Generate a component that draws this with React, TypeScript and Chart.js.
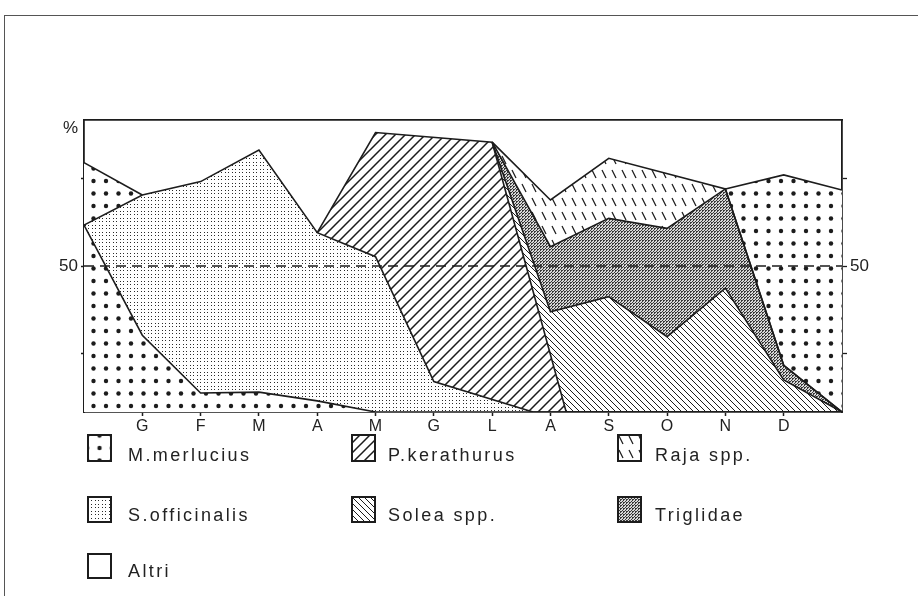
import React, { useEffect, useRef } from 'react';
import { Chart, registerables } from 'chart.js';

Chart.register(...registerables);

// ---- data (x = month slot: 0 and 13 are the frame edges; y = boundary height in %) ----
const MONTH_LABELS = ['', 'G', 'F', 'M', 'A', 'M', 'G', 'L', 'A', 'S', 'O', 'N', 'D', ''];

const M_MERLUCIUS_LOW_X = [0, 1, 2, 3, 4, 5, 13];
const M_MERLUCIUS_LOW_Y = [64, 26.3, 6.5, 6.8, 3.8, 0, 0];

const S_OFFICINALIS_X = [0, 1, 2, 3, 4, 5, 6, 7.7, 13];
const S_OFFICINALIS_Y = [64, 74.3, 78.9, 89.7, 61.4, 53.2, 10.4, 0, 0];

const M_MERLUCIUS_HIGH_X = [0, 1];
const M_MERLUCIUS_HIGH_Y = [85.4, 74.3];

const P_KERATHURUS_X = [4, 5, 7, 8.27, 13];
const P_KERATHURUS_Y = [61.4, 95.7, 92.4, 0, 0];

const SOLEA_X = [7, 8, 9, 10, 11, 12, 13];
const SOLEA_Y = [92.4, 34.3, 39.5, 25.8, 42.4, 11, 0];

const TRIGLIDAE_X = [7, 8, 9, 10, 11, 12, 13];
const TRIGLIDAE_Y = [92.4, 56.6, 66.3, 62.9, 76.4, 16, 0];

const RAJA_X = [7, 8, 9, 11, 12, 13];
const RAJA_Y = [92.4, 72.6, 86.9, 76.4, 16, 0];

const M_MERLUCIUS_RIGHT_X = [11, 12, 13];
const M_MERLUCIUS_RIGHT_Y = [76.4, 81.2, 76.0];

const REF_X = [0, 13];
const REF_Y = [50, 50];

const Y_TICKS = [20, 50, 80];
const Y_LABELLED = 50;
const PERCENT_AT = 97;

const LEGEND_LABELS = ['M.merlucius', 'P.kerathurus', 'Raja spp.', 'S.officinalis', 'Solea spp.', 'Triglidae', 'Altri'];
const LEGEND_PATTERNS = ['bigDots', 'hatch', 'raja', 'fineDots', 'solea', 'trig', null];

// ---- layout / styles ----
const INK = '#1c1c1c';
const FONT = "'Liberation Sans', Arial, sans-serif";
const LEG_COL_BOX = [87, 351, 617];
const LEG_COL_TEXT = [128, 388, 655];
const LEG_ROW_BOX_TOP = [434, 496, 553];
const LEG_ROW_BOX_H = [28, 27, 26];
const LEG_ROW_TEXT_TOP = [445, 505, 561];

function makeTile(w: number, h: number, draw: (g: CanvasRenderingContext2D) => void, bg = '#fff') {
  const c = document.createElement('canvas');
  c.width = w;
  c.height = h;
  const g = c.getContext('2d')!;
  g.fillStyle = bg;
  g.fillRect(0, 0, w, h);
  draw(g);
  return c;
}

const TILES: Record<string, () => HTMLCanvasElement> = {
  bigDots: () =>
    makeTile(25, 25, (g) => {
      g.fillStyle = INK;
      for (const [x, y] of [[6, 6], [18.5, 6], [6, 18.5], [18.5, 18.5]]) {
        g.beginPath();
        g.arc(x, y, 2.2, 0, Math.PI * 2);
        g.fill();
      }
    }),
  fineDots: () =>
    makeTile(7, 7, (g) => {
      g.fillStyle = '#2a2a2a';
      for (const x of [1, 4]) for (const y of [1, 4]) g.fillRect(x, y, 1, 1);
    }),
  hatch: () =>
    makeTile(10, 10, (g) => {
      g.strokeStyle = INK;
      g.lineWidth = 1.5;
      g.beginPath();
      g.moveTo(-1, 11);
      g.lineTo(11, -1);
      g.moveTo(-1, 1);
      g.lineTo(1, -1);
      g.moveTo(9, 11);
      g.lineTo(11, 9);
      g.stroke();
    }),
  solea: () =>
    makeTile(6, 6, (g) => {
      g.strokeStyle = INK;
      g.lineWidth = 1;
      g.beginPath();
      g.moveTo(-1, -1);
      g.lineTo(7, 7);
      g.moveTo(5, -1);
      g.lineTo(7, 1);
      g.moveTo(-1, 5);
      g.lineTo(1, 7);
      g.stroke();
    }),
  raja: () =>
    makeTile(10, 14, (g) => {
      g.strokeStyle = INK;
      g.lineWidth = 1.3;
      g.beginPath();
      g.moveTo(2, 2);
      g.lineTo(6, 10);
      g.stroke();
    }),
  trig: () =>
    makeTile(
      3,
      3,
      (g) => {
        g.fillStyle = '#3a3a3a';
        g.fillRect(0, 0, 2, 1);
        g.fillRect(0, 1, 1, 1);
        g.fillRect(2, 2, 1, 1);
      },
      '#d8d8d8'
    ),
};

function pts(xs: number[], ys: number[]) {
  return xs.map((x, i) => ({ x, y: ys[i] }));
}

export default function App() {
  const canvasRef = useRef<HTMLCanvasElement>(null);
  const swatchRefs = useRef<(HTMLCanvasElement | null)[]>([]);

  useEffect(() => {
    const canvas = canvasRef.current!;
    const ctx = canvas.getContext('2d')!;
    const pat = (k: string) => ctx.createPattern(TILES[k](), 'repeat');

    const area = (label: string, xs: number[], ys: number[], bg: any, fill: any) => ({
      label,
      data: pts(xs, ys),
      borderColor: INK,
      borderWidth: 1.6,
      backgroundColor: bg,
      fill,
      pointRadius: 0,
      tension: 0,
    });

    const chart = new Chart(ctx, {
      type: 'line',
      data: {
        datasets: [
          {
            ...area('50 %', REF_X, REF_Y, 'rgba(0,0,0,0)', false),
            borderDash: [10, 6],
            borderWidth: 1.5,
          },
          area('M.merlucius', M_MERLUCIUS_LOW_X, M_MERLUCIUS_LOW_Y, pat('bigDots'), 'origin'),
          area('S.officinalis', S_OFFICINALIS_X, S_OFFICINALIS_Y, pat('fineDots'), 1),
          area('M.merlucius (2)', M_MERLUCIUS_HIGH_X, M_MERLUCIUS_HIGH_Y, pat('bigDots'), 2),
          area('P.kerathurus', P_KERATHURUS_X, P_KERATHURUS_Y, pat('hatch'), 2),
          area('Solea spp.', SOLEA_X, SOLEA_Y, pat('solea'), 4),
          area('Triglidae', TRIGLIDAE_X, TRIGLIDAE_Y, pat('trig'), 5),
          area('Raja spp.', RAJA_X, RAJA_Y, pat('raja'), 6),
          area('M.merlucius (3)', M_MERLUCIUS_RIGHT_X, M_MERLUCIUS_RIGHT_Y, pat('bigDots'), 7),
        ],
      },
      options: {
        animation: false,
        responsive: false,
        devicePixelRatio: 1,
        events: [],
        font: { family: FONT },
        layout: { padding: { left: 0, right: 0, top: 120, bottom: 154 } },
        plugins: {
          legend: { display: false },
          tooltip: { enabled: false },
          filler: { drawTime: 'beforeDatasetsDraw', propagate: false },
        },
        scales: {
          x: {
            type: 'linear',
            position: 'bottom',
            min: 0,
            max: 13,
            afterFit: (s: any) => {
              s.height = 30;
            },
            ticks: {
              stepSize: 1,
              autoSkip: false,
              maxRotation: 0,
              padding: 1,
              color: '#222',
              font: { family: FONT, size: 16 },
              callback: (v: any) => MONTH_LABELS[v] ?? '',
            },
            grid: {
              display: true,
              drawOnChartArea: false,
              drawTicks: true,
              tickLength: 4,
              tickWidth: 1.5,
              tickColor: (c: any) => (c.tick && MONTH_LABELS[c.tick.value] ? INK : 'rgba(0,0,0,0)'),
            },
            border: { display: true, color: INK, width: 1.8 },
          },
          xTop: {
            type: 'linear',
            position: 'top',
            min: 0,
            max: 13,
            afterFit: (s: any) => {
              s.height = 0;
            },
            ticks: { display: false },
            grid: { display: true, drawOnChartArea: false, drawTicks: false },
            border: { display: true, color: INK, width: 1.8 },
          },
          y: {
            type: 'linear',
            position: 'left',
            min: 0,
            max: 100,
            afterFit: (s: any) => {
              s.width = 84;
            },
            afterBuildTicks: (s: any) => {
              s.ticks = [...Y_TICKS, PERCENT_AT].map((v) => ({ value: v }));
            },
            ticks: {
              color: '#222',
              padding: 3,
              font: { family: FONT, size: 17 },
              callback: (v: any) => (v === Y_LABELLED ? String(v) : v === PERCENT_AT ? '%' : ''),
            },
            grid: {
              display: true,
              drawOnChartArea: false,
              drawTicks: true,
              tickLength: 3,
              tickWidth: 1.3,
              tickColor: (c: any) => (c.tick && c.tick.value !== PERCENT_AT ? INK : 'rgba(0,0,0,0)'),
            },
            border: { display: true, color: INK, width: 1.8 },
          },
          y2: {
            type: 'linear',
            position: 'right',
            min: 0,
            max: 100,
            afterFit: (s: any) => {
              s.width = 76;
            },
            afterBuildTicks: (s: any) => {
              s.ticks = Y_TICKS.map((v) => ({ value: v }));
            },
            ticks: {
              color: '#222',
              padding: 3,
              font: { family: FONT, size: 17 },
              callback: (v: any) => (v === Y_LABELLED ? String(v) : ''),
            },
            grid: {
              display: true,
              drawOnChartArea: false,
              drawTicks: true,
              tickLength: 5,
              tickWidth: 1.3,
              tickColor: INK,
            },
            border: { display: true, color: INK, width: 1.8 },
          },
        },
      } as any,
    });

    // legend swatches
    swatchRefs.current.forEach((sw, i) => {
      if (!sw) return;
      const g = sw.getContext('2d')!;
      const w = sw.width;
      const h = sw.height;
      g.fillStyle = '#fff';
      g.fillRect(0, 0, w, h);
      const key = LEGEND_PATTERNS[i];
      if (key) {
        const p = g.createPattern(TILES[key](), 'repeat')!;
        if (key === 'bigDots') p.setTransform(new DOMMatrix([1, 0, 0, 1, 6.5, 8]));
        g.fillStyle = p;
        g.fillRect(0, 0, w, h);
      }
      g.strokeStyle = INK;
      g.lineWidth = 2;
      g.strokeRect(1, 1, w - 2, h - 2);
    });

    return () => chart.destroy();
  }, []);

  return (
    <div
      style={{
        position: 'fixed',
        left: 0,
        top: 0,
        width: 918,
        height: 596,
        background: '#fff',
        overflow: 'hidden',
        fontFamily: FONT,
      }}
    >
      <canvas ref={canvasRef} width={918} height={596} style={{ position: 'absolute', left: 0, top: 0 }} />
      <div style={{ position: 'absolute', left: 4, top: 15, width: 914, height: 0, borderTop: '1.5px solid #555' }} />
      <div style={{ position: 'absolute', left: 4, top: 15, width: 0, height: 581, borderLeft: '1.5px solid #555' }} />
      {LEGEND_LABELS.map((label, i) => {
        const col = i % 3;
        const row = Math.floor(i / 3);
        return (
          <React.Fragment key={label}>
            <canvas
              ref={(el) => {
                swatchRefs.current[i] = el;
              }}
              width={25}
              height={LEG_ROW_BOX_H[row]}
              style={{ position: 'absolute', left: LEG_COL_BOX[col], top: LEG_ROW_BOX_TOP[row] }}
            />
            <div
              style={{
                position: 'absolute',
                left: LEG_COL_TEXT[col],
                top: LEG_ROW_TEXT_TOP[row],
                fontSize: 18,
                lineHeight: '20px',
                letterSpacing: '2.4px',
                color: '#222',
                whiteSpace: 'nowrap',
              }}
            >
              {label}
            </div>
          </React.Fragment>
        );
      })}
    </div>
  );
}
